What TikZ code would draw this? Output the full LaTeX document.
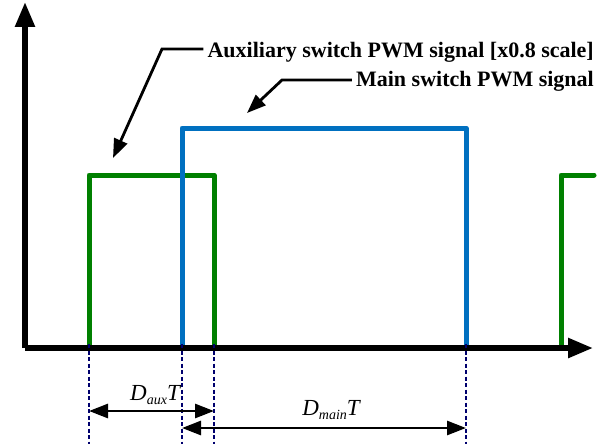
\documentclass[tikz,border=0pt]{standalone}
\usepackage{fontspec}
\setmainfont{Liberation Serif}
\usetikzlibrary{arrows.meta}
\definecolor{sigblue}{RGB}{0,112,192}
\definecolor{siggreen}{RGB}{0,128,0}
\definecolor{dotnavy}{RGB}{0,0,110}
\newcommand{\dsub}[1]{\raisebox{-0.45ex}{\fontsize{14}{14}\selectfont #1}}
\begin{document}
\begin{tikzpicture}[x=1pt,y=-1pt,
  axis/.style={line width=5.5pt,-{Triangle[length=25pt,width=19pt]}},
  sig/.style={line width=5pt,line join=round,line cap=round},
  guide/.style={dotnavy,line width=2.4pt,dash pattern=on 4pt off 2.5pt},
  dim/.style={line width=2.8pt,{Triangle[length=19pt,width=14pt]}-{Triangle[length=19pt,width=14pt]}},
  leader/.style={line width=2.8pt,-{Triangle[length=19pt,width=14pt]}},
  lbl/.style={font=\fontsize{22}{26}\selectfont\bfseries,inner sep=0pt},
  dimlbl/.style={font=\fontsize{23}{26}\selectfont\itshape,inner sep=0pt}]
\useasboundingbox (0,0) rectangle (612,444);
% axes
\coordinate (O) at (25,348);
\coordinate (Ytip) at (25,2);
\coordinate (Xtip) at (593,348);
% waveform points
\coordinate (g1) at (89,348); \coordinate (g2) at (89,175);
\coordinate (g3) at (214,175); \coordinate (g4) at (214,348);
\coordinate (g5) at (561,348); \coordinate (g6) at (561,175);
\coordinate (g7) at (594,175);
\coordinate (b1) at (182,348); \coordinate (b2) at (182,128);
\coordinate (b3) at (466,128); \coordinate (b4) at (466,348);
% guides bottom
\coordinate (d1) at (89,444); \coordinate (d2) at (182,444);
\coordinate (d3) at (214,444); \coordinate (d4) at (466,444);
% signals
\draw[sig,siggreen] (g1) -- (g2) -- (g3) -- (g4);
\draw[sig,siggreen] (g5) -- (g6) -- (g7);
\draw[sig,sigblue] (b1) -- (b2) -- (b3) -- (b4);
% axes on top
\draw[axis] (O) -- (Ytip);
\draw[axis] (O) -- (Xtip);
% guides
\draw[guide] ([yshift=4pt]g1) -- (d1);
\draw[guide] ([yshift=4pt]b1) -- (d2);
\draw[guide] ([yshift=4pt]g4) -- (d3);
\draw[guide] ([yshift=4pt]b4) -- (d4);
% dimension arrows
\coordinate (a1) at (89,411); \coordinate (a2) at (214,411);
\coordinate (m1) at (182,428); \coordinate (m2) at (466,428);
\draw[dim] (a1) -- (a2);
\draw[dim] (m1) -- (m2);
\node[dimlbl,anchor=base] (daux) at (155,400) {D\dsub{aux}T};
\node[dimlbl,anchor=base] (dmain) at (331,415) {D\dsub{main}T};
% labels
\node[lbl,anchor=base east] (auxlbl) at (594,57) {Auxiliary switch PWM signal [x0.8 scale]};
\node[lbl,anchor=base east] (mainlbl) at (594,86) {Main switch PWM signal};
\coordinate (auxk) at (162,49); \coordinate (auxtip) at (113,158);
\coordinate (maink) at (282,80); \coordinate (maintip) at (247,113);
\draw[leader] ([xshift=-4pt]auxlbl.west |- auxk) -- (auxk) -- (auxtip);
\draw[leader] ([xshift=-4pt]mainlbl.west |- maink) -- (maink) -- (maintip);
\end{tikzpicture}
\end{document}
